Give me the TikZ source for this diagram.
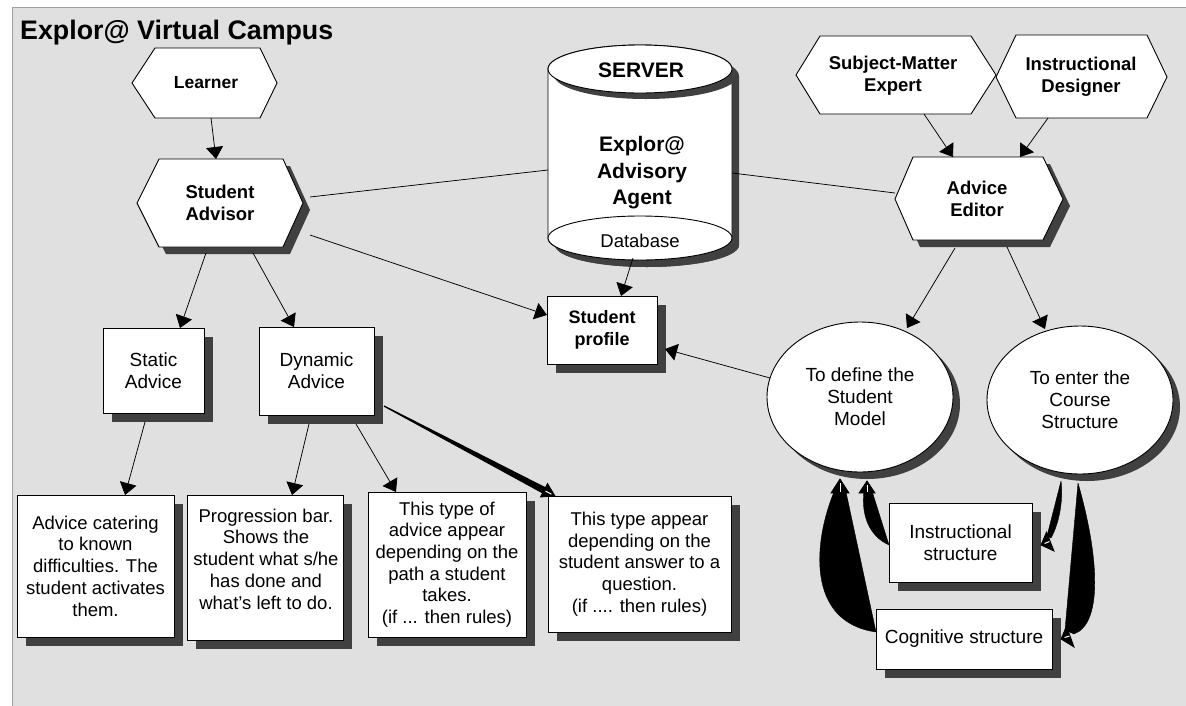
\documentclass[tikz,border=0pt]{standalone}
\usepackage{fontspec}
\setmainfont{Liberation Sans}
\usetikzlibrary{arrows.meta,shapes.geometric,shadows,calc}
\definecolor{bg}{HTML}{E0E0E0}
\definecolor{shad}{HTML}{404040}
\definecolor{framec}{HTML}{A0A0A0}
\begin{document}
\begin{tikzpicture}[x=1pt,y=-1pt,
  rg/.style={font=\fontsize{18.5}{21.7}\selectfont, align=center, inner sep=0pt},
  bd/.style={font=\bfseries\fontsize{18.5}{22}\selectfont, align=center, inner sep=0pt},
  boxn/.style={draw=black, fill=white, line width=0.9pt, inner sep=0pt, align=center,
     font=\fontsize{18.5}{21.7}\selectfont,
     drop shadow={shadow xshift=9pt,shadow yshift=-9pt,fill=shad,opacity=1}},
  elln/.style={ellipse, draw=black, fill=white, line width=0.9pt, inner sep=0pt,
     minimum width=186pt, minimum height=150pt, align=center,
     font=\fontsize{19}{22}\selectfont,
     drop shadow={shadow xshift=7pt,shadow yshift=-7pt,fill=shad,opacity=1}},
  hexd/.style={draw=black, fill=white, line width=0.9pt, line join=miter},
  arr/.style={draw=black, line width=0.75pt, -{Triangle[length=12pt,width=17pt]}},
  con/.style={draw=black, line width=0.75pt},
  wedgef/.style={fill=black, draw=black, line width=0.4pt, line join=round},
  whead/.style={fill=black, draw=black, line width=0.8pt, line join=miter},
  wline/.style={draw=white, line width=1pt}
]
\useasboundingbox (0,0) rectangle (1186,705);
\fill[white] (0,0) rectangle (1186,705);
\filldraw[fill=bg, draw=framec, line width=1.2pt] (12.5,7.5) rectangle (1200,720);

\node[anchor=base west, font=\bfseries\fontsize{26.8}{30}\selectfont, inner sep=0pt] (title) at (20,39) {Explor@ Virtual Campus};

% ---------- hexagons ----------
\filldraw[hexd] (132,83) -- (155,48) -- (260,48) -- (277,83) -- (260,118) -- (155,118) -- cycle;
\node[bd, font=\bfseries\fontsize{17.5}{21}\selectfont] (learner) at (206,83) {Learner};

\fill[shad, shift={(7,7)}] (137,203) -- (159,159) -- (283,159) -- (303,203) -- (283,247) -- (159,247) -- cycle;
\filldraw[hexd] (137,203) -- (159,159) -- (283,159) -- (303,203) -- (283,247) -- (159,247) -- cycle;
\node[bd] (sadv) at (220,203) {Student\\Advisor};

\filldraw[hexd] (796,75) -- (820,36) -- (971,36) -- (996,75) -- (971,114) -- (820,114) -- cycle;
\node[bd] (sme) at (893,76) {Subject-Matter\\Expert};

\filldraw[hexd] (996,77) -- (1016,35) -- (1147,35) -- (1167,77) -- (1147,118) -- (1016,118) -- cycle;
\node[bd] (idz) at (1081,77) {Instructional\\Designer};

\fill[shad, shift={(7,7)}] (895,199) -- (913,157) -- (1043,157) -- (1063,199) -- (1043,240) -- (913,240) -- cycle;
\filldraw[hexd] (895,199) -- (913,157) -- (1043,157) -- (1063,199) -- (1043,240) -- (913,240) -- cycle;
\node[bd] (editor) at (977,199) {Advice\\Editor};

% ---------- server cylinder ----------
\fill[shad, shift={(7,7)}] (548,69) -- (548,238) arc[start angle=180,end angle=360,x radius=92pt,y radius=22pt] -- (732,69) arc[start angle=0,end angle=180,x radius=92pt,y radius=24pt] -- cycle;
\filldraw[hexd] (548,69) -- (548,238) arc[start angle=180,end angle=360,x radius=92pt,y radius=22pt] -- (732,69) arc[start angle=0,end angle=180,x radius=92pt,y radius=24pt] -- cycle;
\fill[shad] (646,75) ellipse[x radius=92pt, y radius=24pt];
\filldraw[hexd] (640,69) ellipse[x radius=92pt, y radius=24pt];
\fill[shad] (647,245) ellipse[x radius=92pt, y radius=22pt];
\filldraw[hexd] (640,238) ellipse[x radius=92pt, y radius=22pt];
\node[bd, font=\bfseries\fontsize{21}{26}\selectfont] (server) at (641,70) {SERVER};
\node[bd, font=\bfseries\fontsize{21}{26.5}\selectfont] (agent) at (642,173) {Explor@\\Advisory\\Agent};
\node[rg] (db) at (640,241) {Database};

% ---------- boxes ----------
\node[boxn, minimum width=110pt, minimum height=68pt, font=\bfseries\fontsize{18}{22}\selectfont] (prof) at (602,330) {Student\\profile};
\node[boxn, minimum width=101pt, minimum height=85pt, font=\fontsize{19}{22}\selectfont] (static) at (153.5,370.5) {Static\\Advice};
\node[boxn, minimum width=115pt, minimum height=88pt, font=\fontsize{19}{22}\selectfont] (dyn) at (316.5,371) {Dynamic\\Advice};

\node[boxn, minimum width=157pt, minimum height=142pt] (adA) at (95.5,566) {Advice catering\\to known\\difficulties. The\\student activates\\them.};
\node[boxn, minimum width=156pt, minimum height=145pt] (adB) at (265,567.5) {};
\node[rg] (adBt) at (266,559) {Progression bar.\\Shows the\\student what s/he\\has done and\\what's left to do.};
\node[boxn, minimum width=158pt, minimum height=145pt] (adC) at (447,564.5) {This type of\\advice appear\\depending on the\\path a student\\takes.\\(if ... then rules)};
\node[boxn, minimum width=183pt, minimum height=136pt] (adD) at (639.5,564) {This type appear\\depending on the\\student answer to a\\question.\\(if .... then rules)};

\node[boxn, minimum width=143pt, minimum height=79pt, font=\fontsize{19}{22}\selectfont] (instr) at (960.5,542.5) {Instructional\\structure};
\node[boxn, minimum width=176pt, minimum height=60pt, font=\fontsize{19}{22}\selectfont] (cog) at (964,639) {Cognitive structure};

% ---------- ellipses ----------
\node[elln] (model) at (860,397) {To define the\\Student\\Model};
\node[elln, minimum height=148pt] (course) at (1080,400) {To enter the\\Course\\Structure};

% ---------- connector end points ----------
\coordinate (lrn-b) at (211,118);   \coordinate (sa-t) at (216,159);
\coordinate (sa-b1) at (206,253);   \coordinate (st-t) at (180,328);
\coordinate (sa-b2) at (253,253);   \coordinate (dy-t) at (294,327);
\coordinate (sa-r1) at (310,235);   \coordinate (pr-l) at (547,315);
\coordinate (sa-r2) at (310,197);   \coordinate (cy-l) at (548,170);
\coordinate (cy-r) at (732,173);    \coordinate (ed-l) at (895,193);
\coordinate (db-b) at (633,258);    \coordinate (pr-t) at (621,296);
\coordinate (sme-b) at (924,114);   \coordinate (ed-t1) at (953,157);
\coordinate (id-b) at (1048,118);   \coordinate (ed-t2) at (1020,157);
\coordinate (ed-b1) at (955,248);   \coordinate (mo-t) at (907,328);
\coordinate (ed-b2) at (1007,247);  \coordinate (co-t) at (1045,329);
\coordinate (mo-l) at (770,378);    \coordinate (pr-r) at (665,349);
\coordinate (st-b) at (145,422);    \coordinate (a-t) at (125,495);
\coordinate (dy-b1) at (309,424);   \coordinate (b-t) at (292,495);
\coordinate (dy-b2) at (356,424);   \coordinate (c-t) at (396,492);

\draw[arr] (lrn-b) -- (sa-t);
\draw[arr] (sa-b1) -- (st-t);
\draw[arr] (sa-b2) -- (dy-t);
\draw[arr] (sa-r1) -- (pr-l);
\draw[con] (sa-r2) -- (cy-l);
\draw[con] (cy-r) -- (ed-l);
\draw[arr] (db-b) -- (pr-t);
\draw[arr] (sme-b) -- (ed-t1);
\draw[arr] (id-b) -- (ed-t2);
\draw[arr] (ed-b1) -- (mo-t);
\draw[arr] (ed-b2) -- (co-t);
\draw[arr] (mo-l) -- (pr-r);
\draw[arr] (st-b) -- (a-t);
\draw[arr] (dy-b1) -- (b-t);
\draw[arr] (dy-b2) -- (c-t);

% thick tapered connector Dynamic -> D
\coordinate (dy-r) at (384,406);
\coordinate (d-t) at (555,496);
\fill[black] ($(dy-r)+(0.3,-0.6)$) -- (546,487.5) -- (542.8,493.6) -- ($(dy-r)+(-0.3,0.6)$) -- cycle;
\filldraw[whead] (d-t) -- (540.5,497) -- (547.5,483.5) -- cycle;
\draw[wline] (551.5,494.2) -- (545.5,491);

% curved wedges (right part)
\coordinate (in-l) at (889,545);
\coordinate (mo-b1) at (867,481);
\fill[wedgef] (in-l) -- (872,491) -- (864,491) .. controls (861,515) and (869,536) .. (in-l) -- cycle;
\filldraw[whead] (mo-b1) -- (859,493) -- (875,493) -- cycle;
\draw[wline] (867,485) -- (867,491.5);

\coordinate (cg-l) at (876,632);
\coordinate (mo-b2) at (840,479);
\fill[wedgef] (cg-l) -- (846,492) -- (834,492) .. controls (814,540) and (805,622) .. (cg-l) -- cycle;
\filldraw[whead] (mo-b2) -- (831,493) -- (849,493) -- cycle;
\draw[wline] (840,483) -- (840,491.5);

\coordinate (co-b1) at (1061,481);
\coordinate (in-r) at (1041,545);
\fill[wedgef] (co-b1) -- (1047,536) -- (1051,538) .. controls (1061,520) and (1063,495) .. (co-b1) -- cycle;
\filldraw[whead] (in-r) -- (1046.5,532) -- (1054,551) -- cycle;
\draw[wline] (1044.5,543.5) -- (1049.5,541.5);

\coordinate (co-b2) at (1078,483);
\coordinate (cg-r) at (1061,639);
\fill[wedgef] (co-b2) -- (1065,630) -- (1074,634) .. controls (1102,624) and (1100,560) .. (co-b2) -- cycle;
\filldraw[whead] (cg-r) -- (1066.5,626) -- (1074,647) -- cycle;
\draw[wline] (1064.5,637.5) -- (1069.5,636);

\end{tikzpicture}
\end{document}
